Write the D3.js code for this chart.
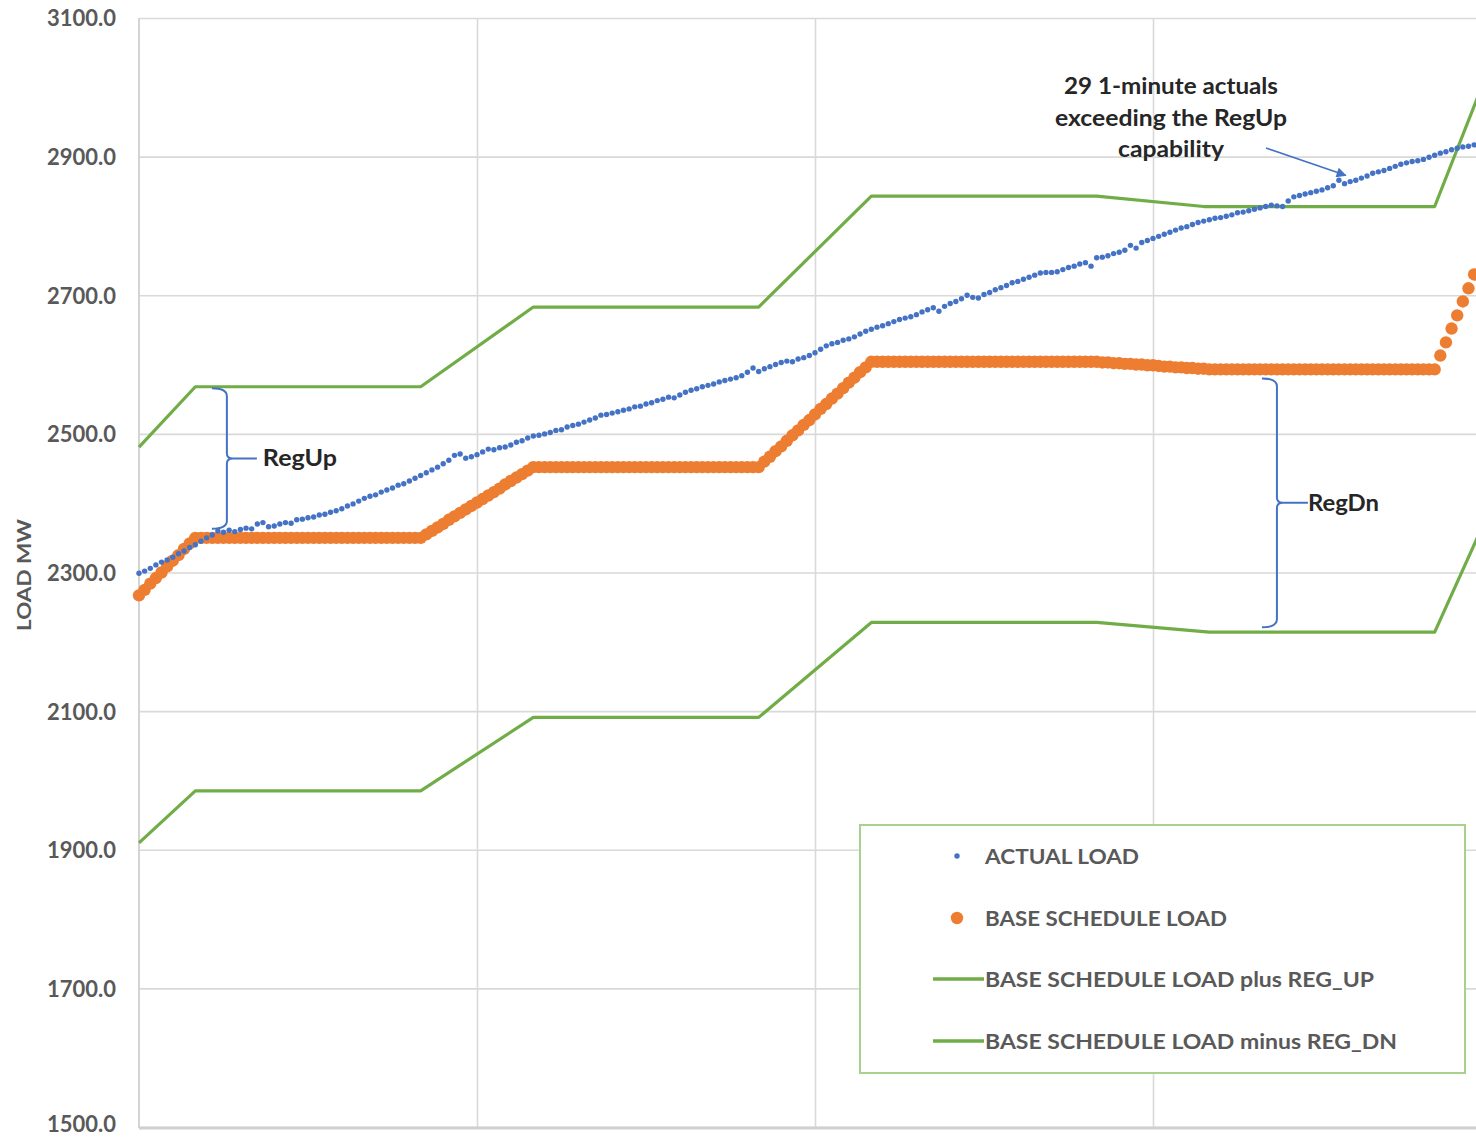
<!DOCTYPE html>
<html>
<head>
<meta charset="utf-8">
<script src="https://cdn.jsdelivr.net/npm/d3@7"></script>
<style>
  html, body { margin: 0; padding: 0; background: #ffffff; }
  svg { display: block; }
</style>
</head>
<body>
<svg id="chart" width="1476" height="1137"></svg>
<script>
// ---------------- DATA ----------------
const yTickValues = [1500, 1700, 1900, 2100, 2300, 2500, 2700, 2900, 3100];
const hourGridMinutes = [60, 120, 180];

// 1-minute actual load (MW), minute 0..237
const actualLoad = [
  2299, 2302, 2306, 2311, 2315, 2318, 2322, 2327, 2331, 2336,
  2340, 2345, 2350, 2354, 2360, 2358, 2361, 2359, 2362, 2364,
  2363, 2370, 2372, 2366, 2367, 2370, 2372, 2371, 2376, 2377,
  2379, 2380, 2383, 2384, 2387, 2389, 2392, 2396, 2399, 2403,
  2407, 2410, 2412, 2416, 2419, 2422, 2426, 2428, 2432, 2436,
  2440, 2444, 2448, 2452, 2457, 2462, 2469, 2471, 2465, 2467,
  2470, 2474, 2478, 2477, 2480, 2481, 2484, 2488, 2490, 2494,
  2497, 2498, 2500, 2502, 2505, 2506, 2510, 2512, 2514, 2517,
  2520, 2523, 2527, 2528, 2530, 2532, 2534, 2536, 2539, 2540,
  2543, 2545, 2548, 2550, 2553, 2552, 2556, 2560, 2563, 2565,
  2568, 2570, 2572, 2575, 2577, 2579, 2581, 2584, 2589, 2595,
  2590, 2594, 2597, 2600, 2603, 2605, 2604, 2608, 2610, 2613,
  2617, 2622, 2627, 2630, 2632, 2635, 2637, 2640, 2644, 2648,
  2651, 2654, 2656, 2659, 2662, 2665, 2667, 2669, 2672, 2676,
  2679, 2682, 2677, 2684, 2688, 2691, 2695, 2700, 2697, 2696,
  2701, 2704, 2708, 2711, 2714, 2718, 2720, 2723, 2726, 2729,
  2732, 2733, 2733, 2734, 2737, 2740, 2742, 2745, 2747, 2742,
  2754, 2755, 2757, 2760, 2762, 2765, 2772, 2768, 2776, 2779,
  2782, 2785, 2788, 2791, 2794, 2797, 2799, 2802, 2805, 2807,
  2809, 2811, 2812, 2814, 2816, 2819, 2820, 2822, 2824, 2826,
  2828, 2830, 2829, 2828, 2836, 2842, 2844, 2846, 2848, 2850,
  2852, 2855, 2858, 2866, 2861, 2864, 2866, 2869, 2872, 2876,
  2878, 2880, 2883, 2886, 2889, 2891, 2893, 2894, 2896, 2899,
  2902, 2905, 2907, 2910, 2912, 2914, 2915, 2917
];

// 1-minute base schedule load (MW), minute 0..237
const baseScheduleLoad = [
  2267, 2275, 2284, 2292, 2300, 2309, 2317, 2325, 2334, 2342,
  2350, 2350, 2350, 2350, 2350, 2350, 2350, 2350, 2350, 2350,
  2350, 2350, 2350, 2350, 2350, 2350, 2350, 2350, 2350, 2350,
  2350, 2350, 2350, 2350, 2350, 2350, 2350, 2350, 2350, 2350,
  2350, 2350, 2350, 2350, 2350, 2350, 2350, 2350, 2350, 2350,
  2350, 2355, 2360, 2365, 2370, 2376, 2381, 2386, 2391, 2396,
  2401, 2406, 2411, 2416, 2421, 2427, 2432, 2437, 2442, 2447,
  2452, 2452, 2452, 2452, 2452, 2452, 2452, 2452, 2452, 2452,
  2452, 2452, 2452, 2452, 2452, 2452, 2452, 2452, 2452, 2452,
  2452, 2452, 2452, 2452, 2452, 2452, 2452, 2452, 2452, 2452,
  2452, 2452, 2452, 2452, 2452, 2452, 2452, 2452, 2452, 2452,
  2452, 2460, 2467, 2475, 2482, 2490, 2498, 2505, 2513, 2520,
  2528, 2536, 2543, 2551, 2558, 2566, 2574, 2581, 2589, 2596,
  2604, 2604, 2604, 2604, 2604, 2604, 2604, 2604, 2604, 2604,
  2604, 2604, 2604, 2604, 2604, 2604, 2604, 2604, 2604, 2604,
  2604, 2604, 2604, 2604, 2604, 2604, 2604, 2604, 2604, 2604,
  2604, 2604, 2604, 2604, 2604, 2604, 2604, 2604, 2604, 2604,
  2604, 2603, 2603, 2602, 2602, 2601, 2601, 2600, 2600, 2599,
  2599, 2598, 2597, 2597, 2596, 2596, 2595, 2595, 2594, 2594,
  2593, 2593, 2593, 2593, 2593, 2593, 2593, 2593, 2593, 2593,
  2593, 2593, 2593, 2593, 2593, 2593, 2593, 2593, 2593, 2593,
  2593, 2593, 2593, 2593, 2593, 2593, 2593, 2593, 2593, 2593,
  2593, 2593, 2593, 2593, 2593, 2593, 2593, 2593, 2593, 2593,
  2593, 2613, 2632, 2652, 2671, 2691, 2710, 2730
];

// Vertices of the two regulation band lines: [minute, MW]
const basePlusRegUp = [
  [0, 2481], [10, 2568], [50, 2568], [70, 2683], [110, 2683],
  [130, 2843], [170, 2843], [189, 2828], [230, 2828], [240, 3035]
];
const baseMinusRegDn = [
  [0, 1910], [10, 1985], [50, 1985], [70, 2091], [110, 2091],
  [130, 2228], [170, 2228], [190, 2214], [230, 2214], [240, 2394]
];

const legendLabels = [
  "ACTUAL LOAD",
  "BASE SCHEDULE LOAD",
  "BASE SCHEDULE LOAD plus REG_UP",
  "BASE SCHEDULE LOAD minus REG_DN"
];
const annotationLines = ["29 1-minute actuals", "exceeding the RegUp", "capability"];

// ---------------- CHART ----------------
const FONT = "Lato, 'Open Sans', 'Liberation Sans', sans-serif";
const COLORS = { actual: "#4472C4", base: "#ED7D31", band: "#70AD47", grid: "#d9d9d9", text: "#595959" };

const svg = d3.select("#chart");
const x = d3.scaleLinear().domain([0, 240]).range([139, 1491]);
const y = d3.scaleLinear().domain([1500, 3100]).range([1127, 18]);

// horizontal gridlines
svg.append("g")
  .attr("transform", `translate(${x(0)},0)`)
  .call(d3.axisLeft(y).tickValues(yTickValues).tickSize(-(1476 - x(0))).tickFormat(""))
  .call(g => g.select(".domain").remove())
  .call(g => g.selectAll("line").attr("stroke", COLORS.grid).attr("stroke-width", 1.6));

// vertical gridlines
svg.append("g")
  .attr("transform", `translate(0,${y(1500)})`)
  .call(d3.axisBottom(x).tickValues(hourGridMinutes).tickSize(-(y(1500) - y(3100))).tickFormat(""))
  .call(g => g.select(".domain").remove())
  .call(g => g.selectAll("line").attr("stroke", COLORS.grid).attr("stroke-width", 1.6));

// left axis line
svg.append("line")
  .attr("x1", x(0)).attr("x2", x(0)).attr("y1", y(3100)).attr("y2", y(1500) + 1)
  .attr("stroke", "#d4d4d4").attr("stroke-width", 2);
// bottom axis line
svg.append("line")
  .attr("x1", x(0)).attr("x2", 1476).attr("y1", y(1500) + 1).attr("y2", y(1500) + 1)
  .attr("stroke", "#d0d0d0").attr("stroke-width", 3);

// y tick labels
svg.append("g")
  .attr("transform", `translate(${x(0)},0)`)
  .call(d3.axisLeft(y).tickValues(yTickValues).tickSize(0).tickPadding(23).tickFormat(d3.format(".1f")))
  .call(g => g.select(".domain").remove())
  .call(g => g.selectAll("text")
    .attr("font-family", FONT).attr("font-size", 22).attr("font-weight", "bold")
    .attr("fill", COLORS.text)
    .attr("dy", d => d === 1500 ? "0.2em" : "0.36em"));

// y axis title
svg.append("text")
  .attr("transform", "translate(31,575) rotate(-90)")
  .attr("text-anchor", "middle")
  .attr("font-family", FONT).attr("font-size", 19).attr("font-weight", "bold")
  .attr("fill", COLORS.text)
  .attr("textLength", 112).attr("lengthAdjust", "spacingAndGlyphs")
  .text("LOAD MW");

// band lines
const bandLine = d3.line().x(d => x(d[0])).y(d => y(d[1]));
[basePlusRegUp, baseMinusRegDn].forEach(series => {
  svg.append("path")
    .datum(series)
    .attr("d", bandLine)
    .attr("fill", "none")
    .attr("stroke", COLORS.band)
    .attr("stroke-width", 3.2)
    .attr("stroke-linejoin", "round");
});

// base schedule dots
svg.append("g").selectAll("circle")
  .data(baseScheduleLoad)
  .join("circle")
  .attr("cx", (d, i) => x(i))
  .attr("cy", d => y(d))
  .attr("r", 6.2)
  .attr("fill", COLORS.base);

// actual load dots
svg.append("g").selectAll("circle")
  .data(actualLoad)
  .join("circle")
  .attr("cx", (d, i) => x(i))
  .attr("cy", d => y(d))
  .attr("r", 2.7)
  .attr("fill", COLORS.actual);

// braces
function brace(xc, yTop, yBot, tickLen) {
  const yMid = (yTop + yBot) / 2;
  const p = d3.path();
  p.moveTo(xc - 15, yTop);
  p.quadraticCurveTo(xc, yTop, xc, yTop + 8);
  p.lineTo(xc, yMid - 5);
  p.quadraticCurveTo(xc, yMid, xc + 6, yMid);
  p.lineTo(xc + tickLen, yMid);
  p.moveTo(xc + 6, yMid);
  p.quadraticCurveTo(xc, yMid, xc, yMid + 5);
  p.lineTo(xc, yBot - 8);
  p.quadraticCurveTo(xc, yBot, xc - 15, yBot);
  return p.toString();
}
svg.append("path")
  .attr("d", brace(x(15.6), y(2566), y(2363), 30))
  .attr("fill", "none").attr("stroke", COLORS.actual).attr("stroke-width", 2);
svg.append("path")
  .attr("d", brace(x(202), y(2580), y(2221), 31))
  .attr("fill", "none").attr("stroke", COLORS.actual).attr("stroke-width", 2);

svg.append("text")
  .attr("x", x(15.6) + 36).attr("y", (y(2566) + y(2363)) / 2 + 8)
  .attr("font-family", FONT).attr("font-size", 22).attr("font-weight", "bold")
  .attr("fill", "#262626").attr("textLength", 74).attr("lengthAdjust", "spacingAndGlyphs")
  .text("RegUp");
svg.append("text")
  .attr("x", x(202) + 31).attr("y", (y(2580) + y(2221)) / 2 + 8)
  .attr("font-family", FONT).attr("font-size", 22).attr("font-weight", "bold")
  .attr("fill", "#262626").attr("textLength", 71).attr("lengthAdjust", "spacingAndGlyphs")
  .text("RegDn");

// annotation text
const annWidths = [214, 232, 106];
const annBase = [94, 126, 157];
annotationLines.forEach((t, i) => {
  svg.append("text")
    .attr("x", 1171).attr("y", annBase[i])
    .attr("text-anchor", "middle")
    .attr("font-family", FONT).attr("font-size", 22).attr("font-weight", "bold")
    .attr("fill", "#262626")
    .attr("textLength", annWidths[i]).attr("lengthAdjust", "spacingAndGlyphs")
    .text(t);
});

// arrow
svg.append("defs").append("marker")
  .attr("id", "arrowhead")
  .attr("viewBox", "0 0 10 10").attr("refX", 9).attr("refY", 5)
  .attr("markerWidth", 11).attr("markerHeight", 10).attr("markerUnits", "userSpaceOnUse")
  .attr("orient", "auto")
  .append("path").attr("d", "M0,0 L10,5 L0,10 Z").attr("fill", COLORS.actual);
svg.append("line")
  .attr("x1", 1266).attr("y1", 148)
  .attr("x2", x(214.2)).attr("y2", y(2873))
  .attr("stroke", COLORS.actual).attr("stroke-width", 1.6)
  .attr("marker-end", "url(#arrowhead)");

// legend
const legend = svg.append("g");
legend.append("rect")
  .attr("x", 860).attr("y", 825).attr("width", 605).attr("height", 248)
  .attr("fill", "#ffffff").attr("stroke", "#a9d18e").attr("stroke-width", 2);
const legendY = [856, 918, 979, 1041];
const legendWidths = [154, 242, 389, 412];
legend.append("circle").attr("cx", 957).attr("cy", legendY[0]).attr("r", 2.7).attr("fill", COLORS.actual);
legend.append("circle").attr("cx", 957).attr("cy", legendY[1]).attr("r", 6.2).attr("fill", COLORS.base);
[2, 3].forEach(i => {
  legend.append("line")
    .attr("x1", 933).attr("x2", 984).attr("y1", legendY[i]).attr("y2", legendY[i])
    .attr("stroke", COLORS.band).attr("stroke-width", 3.5);
});
legendLabels.forEach((t, i) => {
  legend.append("text")
    .attr("x", 985).attr("y", legendY[i] + 8)
    .attr("font-family", FONT).attr("font-size", 21).attr("font-weight", "bold")
    .attr("fill", COLORS.text)
    .attr("textLength", legendWidths[i]).attr("lengthAdjust", "spacingAndGlyphs")
    .text(t);
});
</script>
</body>
</html>
